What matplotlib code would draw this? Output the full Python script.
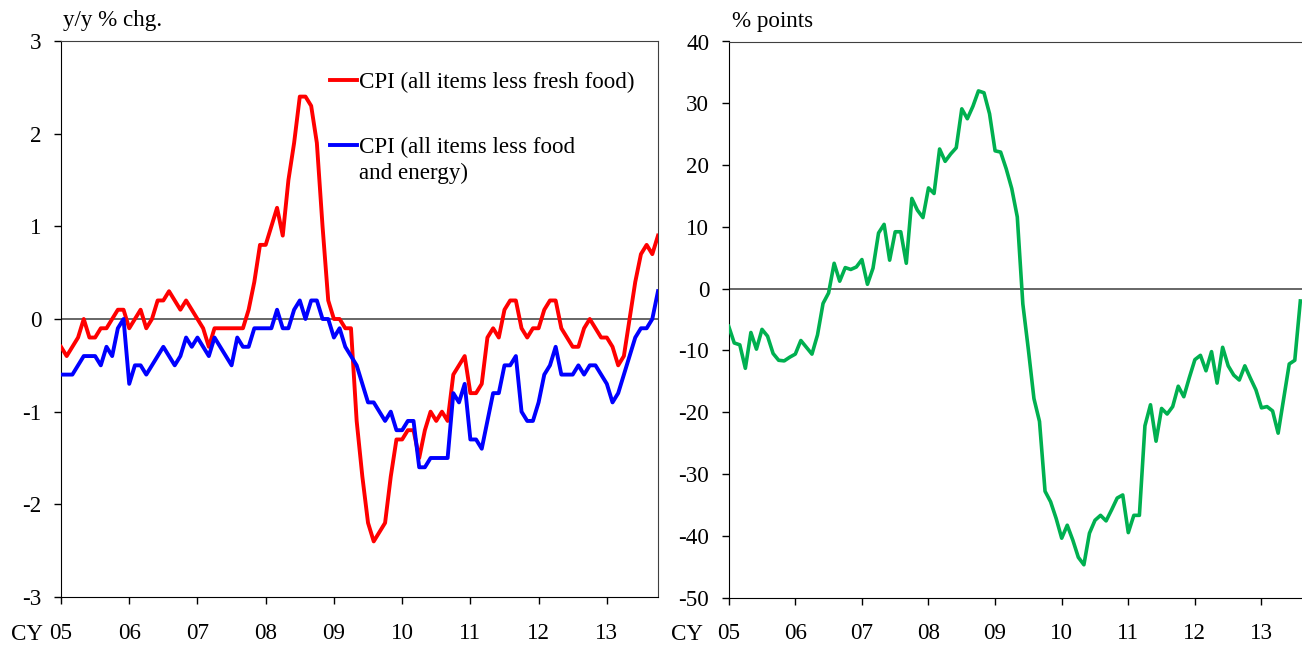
import numpy as np
import matplotlib.pyplot as plt

plt.rcParams['font.family'] = ['Liberation Serif', 'DejaVu Serif']
plt.rcParams['font.size'] = 16.6
plt.rcParams['axes.unicode_minus'] = False

# monthly data, Jan 2005 onwards
cpi_less_fresh = [
    -0.3, -0.4, -0.3, -0.2, 0.0, -0.2, -0.2, -0.1, -0.1, 0.0, 0.1, 0.1,
    -0.1, 0.0, 0.1, -0.1, 0.0, 0.2, 0.2, 0.3, 0.2, 0.1, 0.2, 0.1,
    0.0, -0.1, -0.3, -0.1, -0.1, -0.1, -0.1, -0.1, -0.1, 0.1, 0.4, 0.8,
    0.8, 1.0, 1.2, 0.9, 1.5, 1.9, 2.4, 2.4, 2.3, 1.9, 1.0, 0.2,
    0.0, 0.0, -0.1, -0.1, -1.1, -1.7, -2.2, -2.4, -2.3, -2.2, -1.7, -1.3,
    -1.3, -1.2, -1.2, -1.5, -1.2, -1.0, -1.1, -1.0, -1.1, -0.6, -0.5, -0.4,
    -0.8, -0.8, -0.7, -0.2, -0.1, -0.2, 0.1, 0.2, 0.2, -0.1, -0.2, -0.1,
    -0.1, 0.1, 0.2, 0.2, -0.1, -0.2, -0.3, -0.3, -0.1, 0.0, -0.1, -0.2,
    -0.2, -0.3, -0.5, -0.4, 0.0, 0.4, 0.7, 0.8, 0.7, 0.9,
]
cpi_less_food_energy = [
    -0.6, -0.6, -0.6, -0.5, -0.4, -0.4, -0.4, -0.5, -0.3, -0.4, -0.1, 0.0,
    -0.7, -0.5, -0.5, -0.6, -0.5, -0.4, -0.3, -0.4, -0.5, -0.4, -0.2, -0.3,
    -0.2, -0.3, -0.4, -0.2, -0.3, -0.4, -0.5, -0.2, -0.3, -0.3, -0.1, -0.1,
    -0.1, -0.1, 0.1, -0.1, -0.1, 0.1, 0.2, 0.0, 0.2, 0.2, 0.0, 0.0,
    -0.2, -0.1, -0.3, -0.4, -0.5, -0.7, -0.9, -0.9, -1.0, -1.1, -1.0, -1.2,
    -1.2, -1.1, -1.1, -1.6, -1.6, -1.5, -1.5, -1.5, -1.5, -0.8, -0.9, -0.7,
    -1.3, -1.3, -1.4, -1.1, -0.8, -0.8, -0.5, -0.5, -0.4, -1.0, -1.1, -1.1,
    -0.9, -0.6, -0.5, -0.3, -0.6, -0.6, -0.6, -0.5, -0.6, -0.5, -0.5, -0.6,
    -0.7, -0.9, -0.8, -0.6, -0.4, -0.2, -0.1, -0.1, 0.0, 0.3,
]
pct_points = [
    -6.1, -8.8, -9.1, -12.9, -7.1, -9.8, -6.6, -7.7, -10.5, -11.6, -11.7, -11.1,
    -10.6, -8.4, -9.5, -10.6, -7.5, -2.4, -0.7, 4.1, 1.2, 3.4, 3.1, 3.5,
    4.7, 0.7, 3.3, 9.0, 10.4, 4.6, 9.2, 9.2, 4.1, 14.6, 12.7, 11.5,
    16.3, 15.4, 22.6, 20.6, 21.8, 22.8, 29.1, 27.5, 29.5, 32.0, 31.7, 28.3,
    22.3, 22.1, 19.4, 16.2, 11.6, -2.5, -9.9, -17.8, -21.5, -32.8, -34.5, -37.2,
    -40.4, -38.3, -40.7, -43.5, -44.7, -39.6, -37.5, -36.7, -37.6, -35.8, -33.9, -33.4,
    -39.5, -36.7, -36.7, -22.2, -18.8, -24.7, -19.4, -20.3, -19.1, -15.8, -17.5, -14.4,
    -11.5, -10.8, -13.3, -10.2, -15.3, -9.5, -12.5, -14.0, -14.8, -12.5, -14.5, -16.4,
    -19.3, -19.1, -19.8, -23.4, -17.8, -12.2, -11.6, -2.0,
]
year_labels = ['05', '06', '07', '08', '09', '10', '11', '12', '13']

W, H = 1302, 646
fig = plt.figure(figsize=(W / 100, H / 100), dpi=100)

ax1 = fig.add_axes([61 / W, 1 - 597 / H, 597 / W, 556 / H])
ax2 = fig.add_axes([728.7 / W, 1 - 597.5 / H, (W - 728.7) / W, 556 / H])


def style_axes(ax, n_months, xmax, cy_offset):
    ax.set_xlim(0, xmax)
    ax.set_xticks(np.arange(0, n_months, 12)[:len(year_labels)])
    ax.set_xticklabels(year_labels)
    ax.tick_params(axis='x', direction='out', length=5, width=1, pad=13.5)
    ax.tick_params(axis='y', direction='out', length=5, width=1, pad=9)
    ax.axhline(0, color='#4d4d4d', lw=1.2, zorder=1)
    for side in ['top', 'right']:
        ax.spines[side].set_color('#404040')
    ax.annotate('CY', xy=(0, 0), xycoords='axes fraction',
                xytext=(cy_offset, -37), textcoords='offset pixels',
                ha='right', va='center')


# left panel
x1 = np.arange(len(cpi_less_fresh))
ax1.plot(x1, cpi_less_fresh, color='#ff0000', lw=2.8,
         label='CPI (all items less fresh food)', zorder=3)
ax1.plot(x1, cpi_less_food_energy, color='#0000ff', lw=2.8,
         label='CPI (all items less food', zorder=3)
ax1.set_ylim(-3, 3)
ax1.set_yticks(np.arange(-3, 4, 1))
style_axes(ax1, len(x1), len(x1) - 1, -18)
leg = ax1.legend(loc='upper left', bbox_to_anchor=(0.4506, 0.945), frameon=False,
                 handlelength=1.15, handletextpad=0.1, labelspacing=1.9,
                 borderpad=0, borderaxespad=0)
ax1.annotate('and energy)', xy=(0, 0), xycoords=leg.get_texts()[1],
             xytext=(0, -5), textcoords='offset pixels', va='top', zorder=10)
ax1.annotate('y/y % chg.', xy=(0, 1), xycoords='axes fraction',
             xytext=(2, 10), textcoords='offset pixels', va='bottom')

# right panel
x2 = np.arange(len(pct_points))
ax2.plot(x2, pct_points, color='#00b050', lw=2.6, zorder=3)
ax2.set_ylim(-50, 40)
ax2.set_yticks(np.arange(-50, 41, 10))
style_axes(ax2, len(x1), 103.3, -26)
ax2.spines['right'].set_visible(False)
ax2.annotate('% points', xy=(0, 1), xycoords='axes fraction',
             xytext=(3, 10), textcoords='offset pixels', va='bottom')

fig.savefig('out.png', dpi=100)
